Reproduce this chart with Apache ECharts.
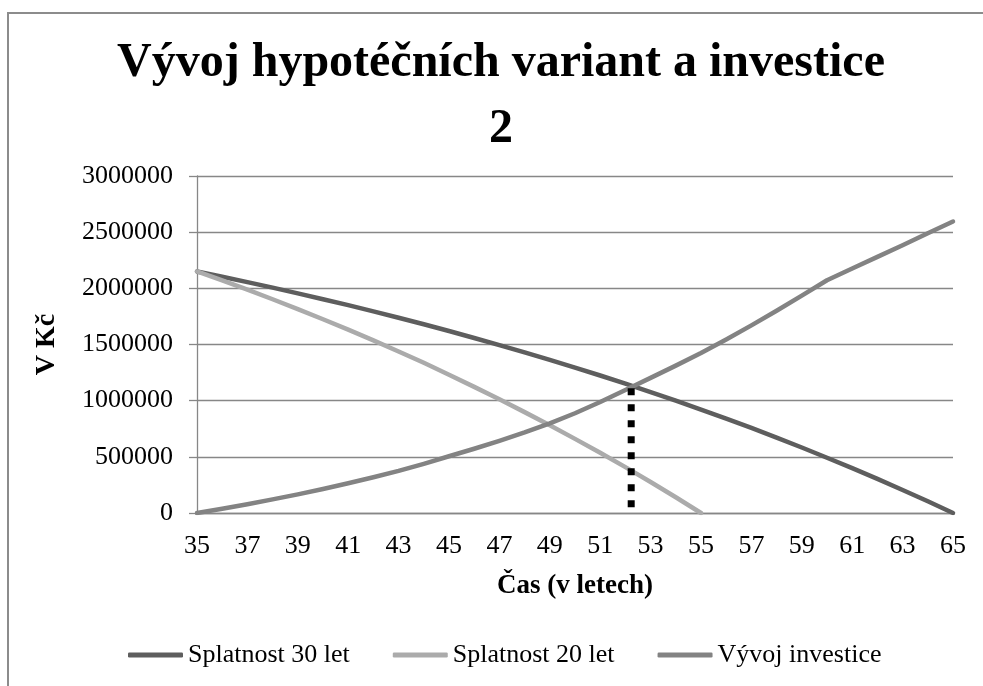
<!DOCTYPE html>
<html>
<head>
<meta charset="utf-8">
<script src="https://cdn.jsdelivr.net/npm/echarts@6/dist/echarts.min.js"></script>
<style>
  html, body { margin: 0; padding: 0; background: #fff; }
  #chart { width: 983px; height: 686px; }
</style>
</head>
<body>
<div id="chart"></div>
<script>
// věk (osa x)
var vek = ['35', '36', '37', '38', '39', '40', '41', '42', '43', '44', '45', '46', '47', '48', '49', '50',
  '51', '52', '53', '54', '55', '56', '57', '58', '59', '60', '61', '62', '63', '64', '65'];

var splatnost30 = [2150000, 2103000, 2055000, 2006000, 1955000, 1903000, 1850000, 1795000, 1738000, 1680000,
  1620000, 1558000, 1495000, 1430000, 1363000, 1295000, 1224000, 1151000, 1077000, 1000000,
  921000, 840000, 757000, 671000, 583000, 492000, 399000, 304000, 205000, 104000, 0];

var splatnost20 = [2150000, 2070000, 1988000, 1903000, 1815000, 1725000, 1632000, 1537000, 1438000, 1337000,
  1230000, 1123000, 1012000, 898000, 781000, 660000, 536000, 408000, 276000, 140000,
  0, null, null, null, null, null, null, null, null, null, null];

var investice = [0, 38000, 78000, 121000, 166000, 214000, 265000, 318000, 375000, 438000,
  505000, 572000, 642000, 717000, 798000, 888000, 988000, 1095000, 1203000, 1312000,
  1425000, 1545000, 1670000, 1800000, 1935000, 2072000, 2176000, 2280000, 2384000, 2490000, 2595000];

// svislá tečkovaná čára v bodě zvratu
var zlomVek = [52.23, 52.23];
var zlomHodnota = [1110000, 0];

var nazvy = ['Splatnost 30 let', 'Splatnost 20 let', 'Vývoj investice'];

var font = "'Liberation Serif', 'Times New Roman', serif";
var gridColor = '#878787';

var chart = echarts.init(document.getElementById('chart'));

var options = {
  animation: false,
  backgroundColor: '#fff',
  textStyle: { fontFamily: font },
  title: {
    text: 'Vývoj hypotéčních variant a investice\n2',
    left: 501,
    top: 31,
    textAlign: 'center',
    padding: 0,
    textStyle: {
      fontFamily: font,
      fontSize: 48,
      fontWeight: 'bold',
      color: '#000',
      lineHeight: 66
    }
  },
  graphic: [{
    type: 'rect',
    silent: true,
    shape: { x: 8, y: 13, width: 1100, height: 800 },
    style: { fill: 'none', stroke: '#8c8c8c', lineWidth: 2 }
  }],
  legend: {
    data: nazvy,
    left: 128,
    top: 642,
    padding: 0,
    itemWidth: 55,
    itemHeight: 5,
    itemGap: 43,
    icon: 'roundRect',
    textStyle: { fontFamily: font, fontSize: 26, color: '#000' }
  },
  grid: {
    left: 197,
    right: 30,
    top: 176,
    bottom: 173
  },
  xAxis: [
    {
      type: 'category',
      data: vek,
      boundaryGap: false,
      name: 'Čas (v letech)',
      nameLocation: 'middle',
      nameGap: 60,
      nameTextStyle: { fontFamily: font, fontSize: 27, fontWeight: 'bold', color: '#000' },
      axisLine: { lineStyle: { color: gridColor, width: 1.3 } },
      axisTick: { show: false },
      axisLabel: { interval: 1, margin: 20, fontFamily: font, fontSize: 26, color: '#000' },
      splitLine: { show: false }
    },
    {
      type: 'value',
      min: 35,
      max: 65,
      show: false
    }
  ],
  yAxis: {
    type: 'value',
    min: 0,
    max: 3000000,
    interval: 500000,
    name: 'V Kč',
    nameLocation: 'middle',
    nameGap: 136,
    nameTextStyle: { fontFamily: font, fontSize: 28, fontWeight: 'bold', color: '#000' },
    axisLine: { show: true, lineStyle: { color: gridColor, width: 1.3 } },
    axisTick: { show: true, length: 8, lineStyle: { color: gridColor, width: 1.3 } },
    axisLabel: {
      margin: 24,
      fontFamily: font,
      fontSize: 26,
      color: '#000',
      formatter: function (v) { return String(v); }
    },
    splitLine: { lineStyle: { color: gridColor, width: 1.3 } }
  },
  series: [
    {
      name: nazvy[0],
      type: 'line',
      data: splatnost30,
      symbol: 'none',
      color: '#5e5e5e',
      lineStyle: { width: 4.5, color: '#5e5e5e', cap: 'round', join: 'round' }
    },
    {
      name: nazvy[1],
      type: 'line',
      data: splatnost20,
      symbol: 'none',
      color: '#ababab',
      lineStyle: { width: 4.5, color: '#ababab', cap: 'round', join: 'round' }
    },
    {
      name: nazvy[2],
      type: 'line',
      data: investice,
      symbol: 'none',
      color: '#838383',
      lineStyle: { width: 4.5, color: '#838383', cap: 'round', join: 'round' }
    },
    {
      name: 'zlom',
      type: 'line',
      xAxisIndex: 1,
      data: zlomVek.map(function (v, i) { return [v, zlomHodnota[i]]; }),
      symbol: 'none',
      silent: true,
      z: 5,
      lineStyle: { width: 7, color: '#000', type: [7, 9], cap: 'butt' }
    }
  ]
};

chart.setOption(options);
</script>
</body>
</html>
